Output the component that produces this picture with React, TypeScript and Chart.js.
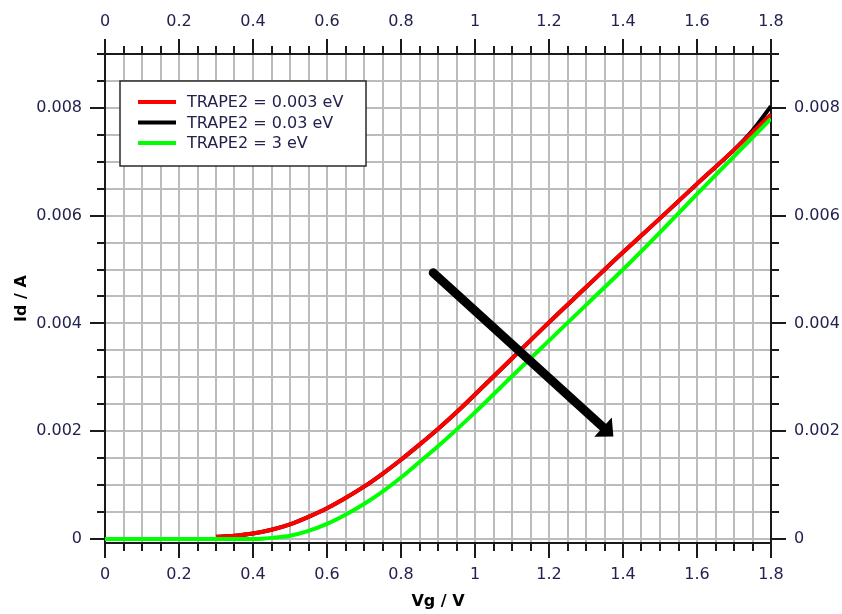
import React, { useEffect, useRef } from 'react';
import { Chart, registerables } from 'chart.js';

Chart.register(...registerables);

// ---- axis ranges & tick labels ----
const X_MIN = 0;
const X_MAX = 1.8;
const Y_MIN = -0.000075;
const Y_MAX = 0.009;
const X_MINOR_STEP = 0.05;
const Y_MINOR_STEP = 0.0005;
const X_MAJOR = [0, 0.2, 0.4, 0.6, 0.8, 1, 1.2, 1.4, 1.6, 1.8];
const X_LABELS = ['0', '0.2', '0.4', '0.6', '0.8', '1', '1.2', '1.4', '1.6', '1.8'];
const Y_MAJOR = [0, 0.002, 0.004, 0.006, 0.008];
const Y_LABELS = ['0', '0.002', '0.004', '0.006', '0.008'];

// ---- series ----
const SERIES_NAMES = ['TRAPE2 = 0.003 eV', 'TRAPE2 = 0.03 eV', 'TRAPE2 = 3 eV'];
const SERIES_COLORS = ['#ff0000', '#000000', '#00ff00'];

const VG_RED = [0.3, 0.35, 0.4, 0.45, 0.5, 0.55, 0.6, 0.65, 0.7, 0.75, 0.8, 0.85, 0.9, 0.95, 1.0, 1.1, 1.2, 1.3, 1.4, 1.5, 1.6, 1.7, 1.75, 1.8];
const ID_RED = [0.00004, 0.00006, 0.0001, 0.00017, 0.00027, 0.00041, 0.00057, 0.00076, 0.00097, 0.00121, 0.00147, 0.00175, 0.00204, 0.00235, 0.00268, 0.00335, 0.00402, 0.00467, 0.00532, 0.00595, 0.00659, 0.00722, 0.00755, 0.00788];

const VG_BLACK = [0.3, 0.35, 0.4, 0.45, 0.5, 0.55, 0.6, 0.65, 0.7, 0.75, 0.8, 0.85, 0.9, 0.95, 1.0, 1.1, 1.2, 1.3, 1.4, 1.5, 1.6, 1.7, 1.75, 1.8];
const ID_BLACK = [0.00004, 0.00006, 0.0001, 0.00017, 0.00027, 0.00041, 0.00057, 0.00076, 0.00097, 0.00121, 0.00147, 0.00175, 0.00204, 0.00235, 0.00268, 0.00335, 0.00402, 0.00467, 0.00532, 0.00595, 0.00659, 0.00722, 0.00758, 0.00803];

const VG_GREEN = [0, 0.1, 0.2, 0.3, 0.4, 0.425, 0.45, 0.5, 0.55, 0.6, 0.65, 0.7, 0.75, 0.8, 0.85, 0.9, 1.0, 1.1, 1.2, 1.3, 1.4, 1.5, 1.6, 1.7, 1.8];
const ID_GREEN = [0, 0, 0, 0, 0, 0.000005, 0.00002, 0.00006, 0.00015, 0.00028, 0.00045, 0.00065, 0.00088, 0.00114, 0.00143, 0.00172, 0.00235, 0.00302, 0.00368, 0.00434, 0.005, 0.00569, 0.0064, 0.0071, 0.0078];

// ---- annotation arrow (data coordinates) ----
const ARROW_FROM = [0.887, 0.00494];
const ARROW_TO = [1.374, 0.0019];

const FONT = 'DejaVu Sans';
const TICK_COLOR = '#22224e';
const AXIS_COLOR = '#1a1a1a';
const GRID_COLOR = '#bcbcbc';

const zip = (xs: number[], ys: number[]) => xs.map((x, i) => ({ x, y: ys[i] }));

const majorIndex = (v: number, majors: number[], step: number) =>
  majors.findIndex((m) => Math.abs(m - v) < step / 100);

const buildTicks = (min: number, max: number, step: number) => {
  const out: { value: number }[] = [];
  const n = Math.round((max - min) / step);
  for (let i = 0; i <= n; i++) out.push({ value: +(min + i * step).toFixed(8) });
  return out;
};

const tickMarksPlugin = {
  id: 'tickMarks',
  afterDraw(chart: any) {
    const ctx = chart.ctx;
    ctx.save();
    ctx.strokeStyle = AXIS_COLOR;
    ctx.lineWidth = 2;
    ['x', 'x2', 'y', 'y2'].forEach((id) => {
      const s = chart.scales[id];
      const horiz = id.startsWith('x');
      const majors = horiz ? X_MAJOR : Y_MAJOR;
      const step = horiz ? X_MINOR_STEP : Y_MINOR_STEP;
      s.ticks.forEach((t: any) => {
        const major = majorIndex(t.value, majors, step) >= 0;
        const len = major ? 15 : 8;
        const p = Math.round(s.getPixelForValue(t.value));
        ctx.beginPath();
        if (s.position === 'bottom') {
          ctx.moveTo(p, s.top);
          ctx.lineTo(p, s.top + len);
        } else if (s.position === 'top') {
          ctx.moveTo(p, s.bottom);
          ctx.lineTo(p, s.bottom - len);
        } else if (s.position === 'left') {
          ctx.moveTo(s.right, p);
          ctx.lineTo(s.right - len, p);
        } else {
          ctx.moveTo(s.left, p);
          ctx.lineTo(s.left + len, p);
        }
        ctx.stroke();
      });
    });
    ctx.restore();
  },
};

const arrowPlugin = {
  id: 'arrowAnno',
  afterDatasetsDraw(chart: any) {
    const { ctx, scales } = chart;
    const x0 = scales.x.getPixelForValue(ARROW_FROM[0]);
    const y0 = scales.y.getPixelForValue(ARROW_FROM[1]);
    const x1 = scales.x.getPixelForValue(ARROW_TO[0]);
    const y1 = scales.y.getPixelForValue(ARROW_TO[1]);
    const ang = Math.atan2(y1 - y0, x1 - x0);
    const headLen = 14;
    const headHalf = 13;
    const bx = x1 - headLen * Math.cos(ang);
    const by = y1 - headLen * Math.sin(ang);
    ctx.save();
    ctx.strokeStyle = '#000';
    ctx.fillStyle = '#000';
    ctx.lineWidth = 9;
    ctx.lineCap = 'round';
    ctx.beginPath();
    ctx.moveTo(x0, y0);
    ctx.lineTo(bx + 2 * Math.cos(ang), by + 2 * Math.sin(ang));
    ctx.stroke();
    ctx.beginPath();
    ctx.moveTo(x1, y1);
    ctx.lineTo(bx + headHalf * Math.sin(ang), by - headHalf * Math.cos(ang));
    ctx.lineTo(bx - headHalf * Math.sin(ang), by + headHalf * Math.cos(ang));
    ctx.closePath();
    ctx.fill();
    ctx.restore();
  },
};

const legendBoxPlugin = {
  id: 'legendBox',
  afterDatasetsDraw(chart: any) {
    const { ctx, chartArea } = chart;
    const bx = chartArea.left + 15;
    const by = chartArea.top + 27;
    const bw = 246;
    const bh = 85;
    ctx.save();
    ctx.fillStyle = '#ffffff';
    ctx.fillRect(bx, by, bw, bh);
    ctx.strokeStyle = '#2a2a2a';
    ctx.lineWidth = 1.5;
    ctx.strokeRect(bx, by, bw, bh);
    ctx.font = `16px "${FONT}"`;
    ctx.textBaseline = 'middle';
    ctx.textAlign = 'left';
    chart.data.datasets.forEach((ds: any, i: number) => {
      const ry = by + 21 + i * 20.5;
      ctx.strokeStyle = ds.borderColor;
      ctx.lineWidth = 4;
      ctx.beginPath();
      ctx.moveTo(bx + 18, ry);
      ctx.lineTo(bx + 56, ry);
      ctx.stroke();
      ctx.fillStyle = TICK_COLOR;
      ctx.fillText(ds.label, bx + 67, ry + 1);
    });
    ctx.restore();
  },
};

export default function App() {
  const canvasRef = useRef<HTMLCanvasElement | null>(null);

  useEffect(() => {
    document.body.style.margin = '0';
    const canvas = canvasRef.current;
    if (!canvas) return;

    const xTickLabel = (v: any) => {
      const i = majorIndex(Number(v), X_MAJOR, X_MINOR_STEP);
      return i >= 0 ? X_LABELS[i] : '';
    };
    const yTickLabel = (v: any) => {
      const i = majorIndex(Number(v), Y_MAJOR, Y_MINOR_STEP);
      return i >= 0 ? Y_LABELS[i] : '';
    };
    const tickFont = { family: FONT, size: 16 };
    const titleFont = { family: FONT, size: 16, weight: 'bold' as const };

    const chart = new Chart(canvas, {
      type: 'line',
      data: {
        datasets: [
          { label: SERIES_NAMES[0], data: zip(VG_RED, ID_RED), borderColor: SERIES_COLORS[0], order: 1 },
          { label: SERIES_NAMES[1], data: zip(VG_BLACK, ID_BLACK), borderColor: SERIES_COLORS[1], order: 2 },
          { label: SERIES_NAMES[2], data: zip(VG_GREEN, ID_GREEN), borderColor: SERIES_COLORS[2], order: 0 },
        ].map((d) => ({
          ...d,
          borderWidth: 4,
          pointRadius: 0,
          fill: false,
          cubicInterpolationMode: 'monotone' as const,
          backgroundColor: d.borderColor,
        })),
      },
      options: {
        animation: false,
        responsive: false,
        devicePixelRatio: 1,
        layout: { padding: 0 },
        plugins: {
          legend: { display: false },
          tooltip: { enabled: false },
        },
        scales: {
          x: {
            type: 'linear',
            position: 'bottom',
            min: X_MIN,
            max: X_MAX,
            afterBuildTicks: (s: any) => { s.ticks = buildTicks(X_MIN, X_MAX, X_MINOR_STEP); },
            afterFit: (s: any) => { s.height = 71; },
            ticks: { autoSkip: false, maxRotation: 0, padding: 22, color: TICK_COLOR, font: tickFont, callback: xTickLabel },
            grid: { display: true, drawOnChartArea: true, drawTicks: false, color: GRID_COLOR, lineWidth: 2 },
            border: { display: true, color: AXIS_COLOR, width: 2 },
            title: { display: true, text: 'Vg / V', color: '#000', font: titleFont, padding: { top: 0, bottom: 3 } },
          },
          x2: {
            type: 'linear',
            position: 'top',
            min: X_MIN,
            max: X_MAX,
            afterBuildTicks: (s: any) => { s.ticks = buildTicks(X_MIN, X_MAX, X_MINOR_STEP); },
            afterFit: (s: any) => { s.height = 54; },
            ticks: { autoSkip: false, maxRotation: 0, padding: 23, color: TICK_COLOR, font: tickFont, callback: xTickLabel },
            grid: { display: true, drawOnChartArea: false, drawTicks: false },
            border: { display: true, color: AXIS_COLOR, width: 2 },
          },
          y: {
            type: 'linear',
            position: 'left',
            min: Y_MIN,
            max: Y_MAX,
            afterBuildTicks: (s: any) => { s.ticks = buildTicks(0, Y_MAX, Y_MINOR_STEP); },
            afterFit: (s: any) => { s.width = 105; },
            ticks: { autoSkip: false, padding: 23, color: TICK_COLOR, font: tickFont, callback: yTickLabel },
            grid: { display: true, drawOnChartArea: true, drawTicks: false, color: GRID_COLOR, lineWidth: 2 },
            border: { display: true, color: AXIS_COLOR, width: 2 },
            title: { display: true, text: 'Id / A', color: '#000', font: titleFont, padding: { top: 12, bottom: 0 } },
          },
          y2: {
            type: 'linear',
            position: 'right',
            min: Y_MIN,
            max: Y_MAX,
            afterBuildTicks: (s: any) => { s.ticks = buildTicks(0, Y_MAX, Y_MINOR_STEP); },
            afterFit: (s: any) => { s.width = 71; },
            ticks: { autoSkip: false, padding: 23, color: TICK_COLOR, font: tickFont, callback: yTickLabel },
            grid: { display: true, drawOnChartArea: false, drawTicks: false },
            border: { display: true, color: AXIS_COLOR, width: 2 },
          },
        },
      },
      plugins: [tickMarksPlugin, legendBoxPlugin, arrowPlugin],
    });

    return () => chart.destroy();
  }, []);

  return (
    <div style={{ width: 842, height: 614 }}>
      <canvas ref={canvasRef} width={842} height={614} style={{ display: 'block' }} />
    </div>
  );
}
